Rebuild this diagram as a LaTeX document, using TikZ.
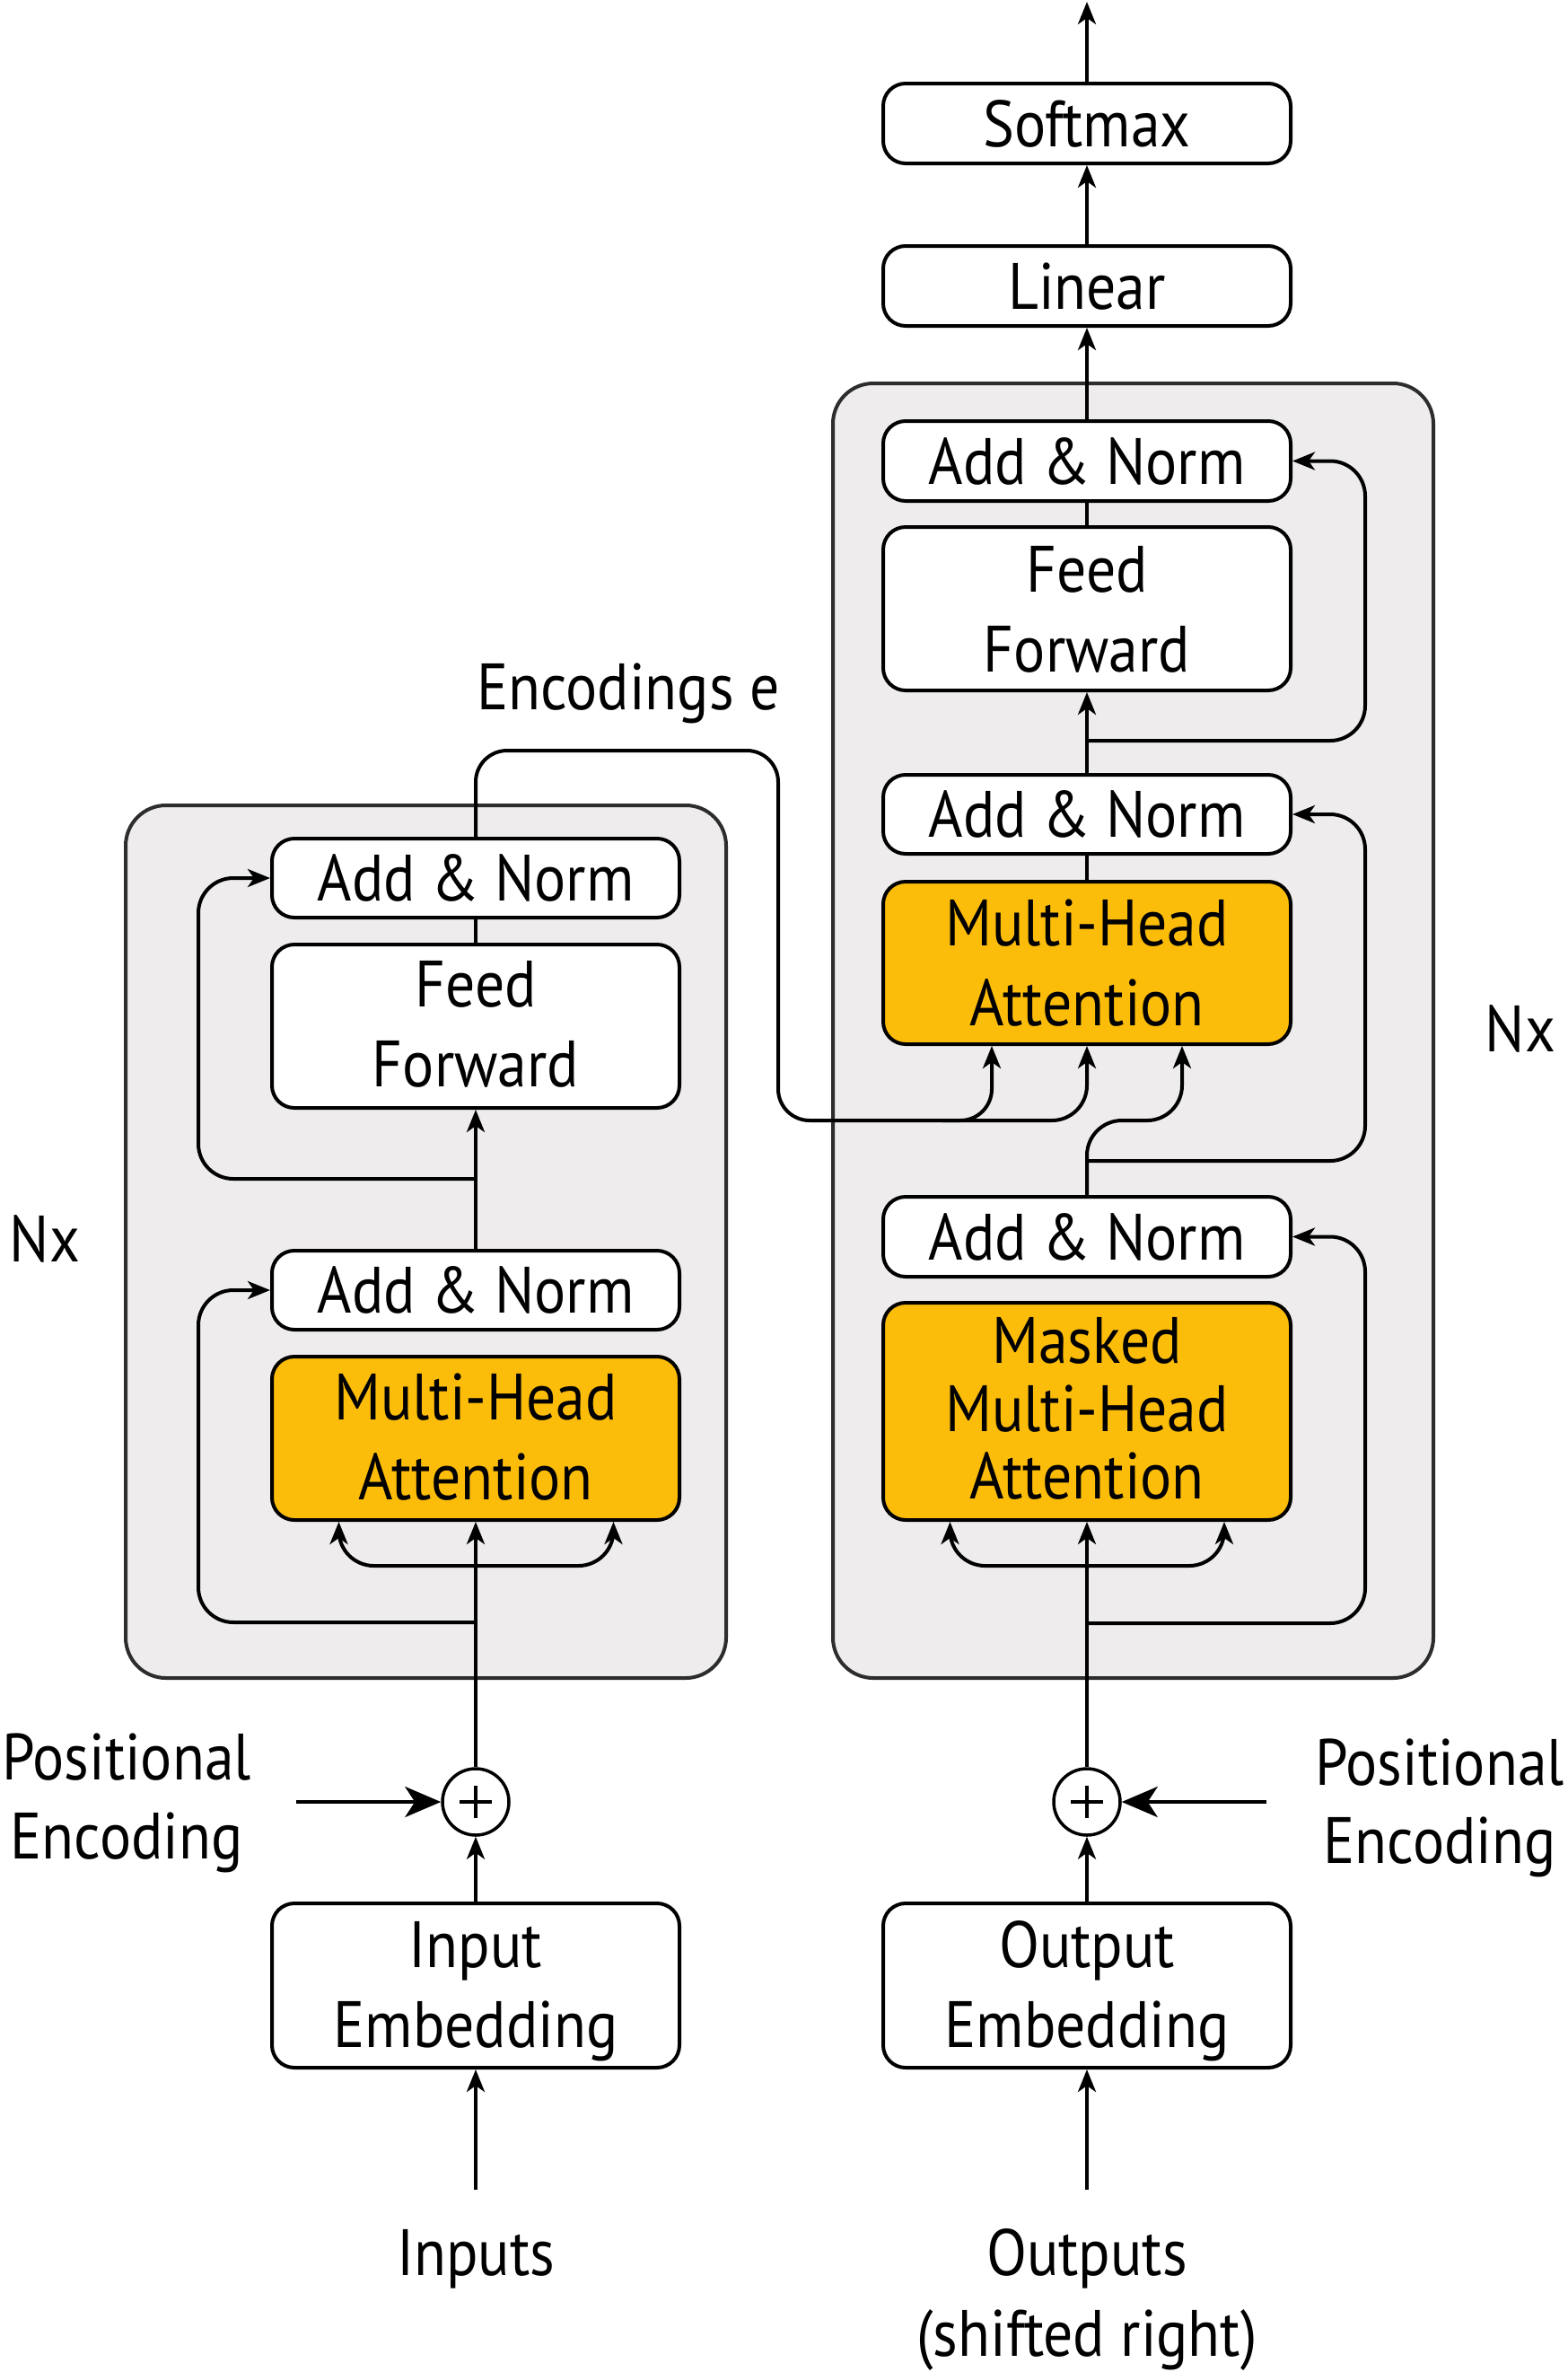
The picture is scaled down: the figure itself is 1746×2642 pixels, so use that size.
\documentclass[tikz,border=0pt]{standalone}
\usepackage{fontspec}
\setmainfont[FakeStretch=0.9]{PT Sans}
\usetikzlibrary{arrows.meta}
\definecolor{blockgray}{RGB}{238,236,237}
\definecolor{attnorange}{RGB}{252,188,10}
\definecolor{blockedge}{RGB}{45,45,45}
\tikzset{
  box/.style={draw=black, line width=4pt, rounded corners=25pt, fill=white, minimum width=454pt, inner sep=0pt},
  attn/.style={box, fill=attnorange},
  bigbox/.style={draw=blockedge, line width=4pt, rounded corners=45pt, fill=blockgray, inner sep=0pt},
  txt/.style={inner sep=0pt, anchor=base, font=\fontsize{73}{89}\selectfont},
  wire/.style={line width=4pt, rounded corners=39pt},
  arr/.style={wire, -{Stealth[length=25pt,width=20pt,inset=7pt]}},
  bigarr/.style={line width=4pt, -{Stealth[length=40pt,width=34pt,inset=11pt]}},
  plusnode/.style={circle, draw=black, line width=3.5pt, fill=white, minimum size=74pt, inner sep=0pt},
}
\begin{document}
\begin{tikzpicture}[x=1pt, y=-1pt]
\useasboundingbox (0,0) rectangle (1746,2642);

% blocks
\node[bigbox, minimum width=669pt, minimum height=972pt] (encblock) at (474.5,1383) {};
\node[bigbox, minimum width=669pt, minimum height=1442pt] (decblock) at (1262.5,1148) {};

% encoder boxes
\node[box, minimum height=88pt] (eAN2) at (530,978) {};
\node[box, minimum height=182pt] (eFF) at (530,1143) {};
\node[box, minimum height=88pt] (eAN1) at (530,1437) {};
\node[attn, minimum height=182pt] (eMHA) at (530,1602) {};
\node[box, minimum height=183pt] (eEmb) at (530,2211.5) {};
\node[plusnode] (ePlus) at (530,2007) {};

% decoder boxes
\node[box, minimum height=89pt] (dSoft) at (1211,137.5) {};
\node[box, minimum height=89pt] (dLin) at (1211,318.5) {};
\node[box, minimum height=89pt] (dAN3) at (1211,513.5) {};
\node[box, minimum height=182pt] (dFF) at (1211,678) {};
\node[box, minimum height=88pt] (dAN2) at (1211,907) {};
\node[attn, minimum height=181pt] (dMHA) at (1211,1072.5) {};
\node[box, minimum height=89pt] (dAN1) at (1211,1377.5) {};
\node[attn, minimum height=242pt] (dMMHA) at (1211,1572) {};
\node[box, minimum height=183pt] (dEmb) at (1211,2211.5) {};
\node[plusnode] (dPlus) at (1211,2007) {};

% plus signs
\draw[line width=3.5pt] (512,2007) -- (548,2007) (530,1989) -- (530,2025);
\draw[line width=3.5pt] (1193,2007) -- (1229,2007) (1211,1989) -- (1211,2025);

% free ends
\coordinate (inSrc) at (530,2439);
\coordinate (outSrc) at (1211,2439);
\coordinate (peL) at (330,2007);
\coordinate (peR) at (1411,2007);
\coordinate (topEnd) at (1211,2);

% ---------- encoder wiring ----------
\draw[arr] (inSrc) -- (eEmb.south);
\draw[arr] (eEmb.north) -- (ePlus.south);
\draw[bigarr] (peL) -- (ePlus.west);
\draw[arr] (ePlus.north) -- (eMHA.south);
\draw[arr] (530,1744) -- (377.5,1744) -- ([xshift=-152.5pt]eMHA.south);
\draw[arr] (530,1744) -- (683.5,1744) -- ([xshift=153.5pt]eMHA.south);
\draw[arr] (530,1807) -- (221,1807) -- (221,1437) -- (eAN1.west);
\draw[arr] (eAN1.north) -- (eFF.south);
\draw[arr] (530,1313) -- (221,1313) -- (221,978) -- (eAN2.west);
\draw[wire] (eFF.north) -- (eAN2.south);
% encoder output to decoder
\draw[arr, rounded corners=35pt] (eAN2.north) -- (530,836) -- (867,836) -- (867,1248) -- (1105,1248) -- ([xshift=-106pt]dMHA.south);
\draw[arr] (1050,1248) -- (1211,1248) -- (dMHA.south);

% ---------- decoder wiring ----------
\draw[arr] (outSrc) -- (dEmb.south);
\draw[arr] (dEmb.north) -- (dPlus.south);
\draw[bigarr] (peR) -- (dPlus.east);
\draw[arr] (dPlus.north) -- (dMMHA.south);
\draw[arr] (1211,1744) -- (1058.5,1744) -- ([xshift=-152.5pt]dMMHA.south);
\draw[arr] (1211,1744) -- (1364,1744) -- ([xshift=153pt]dMMHA.south);
\draw[arr] (1211,1808) -- (1521,1808) -- (1521,1377.5) -- (dAN1.east);
\draw[arr] (dAN1.north) -- (1211,1248) -- (1317,1248) -- ([xshift=106pt]dMHA.south);
\draw[arr] (1211,1293) -- (1521,1293) -- (1521,907) -- (dAN2.east);
\draw[wire] (dMHA.north) -- (dAN2.south);
\draw[arr] (dAN2.north) -- (dFF.south);
\draw[arr] (1211,825) -- (1521,825) -- (1521,513.5) -- (dAN3.east);
\draw[wire] (dFF.north) -- (dAN3.south);
\draw[arr] (dAN3.north) -- (dLin.south);
\draw[arr] (dLin.north) -- (dSoft.south);
\draw[arr] (dSoft.north) -- (topEnd);

% ---------- texts ----------
\node[txt] (tEAN2) at (530,1003) {Add \& Norm};
\node[txt] (tEFF1) at (530,1121) {Feed};
\node[txt] (tEFF2) at (530,1210) {Forward};
\node[txt] (tEAN1) at (530,1462) {Add \& Norm};
\node[txt] (tEMHA1) at (530,1581) {Multi-Head};
\node[txt] (tEMHA2) at (530,1670) {Attention};
\node[txt] (tEEmb1) at (530,2191) {Input};
\node[txt] (tEEmb2) at (530,2280) {Embedding};

\node[txt] (tSoft) at (1211,163) {Softmax};
\node[txt] (tLin) at (1211,344) {Linear};
\node[txt] (tDAN3) at (1211,539) {Add \& Norm};
\node[txt] (tDFF1) at (1211,659) {Feed};
\node[txt] (tDFF2) at (1211,748) {Forward};
\node[txt] (tDAN2) at (1211,932.5) {Add \& Norm};
\node[txt] (tDMHA1) at (1211,1053) {Multi-Head};
\node[txt] (tDMHA2) at (1211,1142) {Attention};
\node[txt] (tDAN1) at (1211,1403) {Add \& Norm};
\node[txt] (tDM1) at (1211,1518) {Masked};
\node[txt] (tDM2) at (1211,1594) {Multi-Head};
\node[txt] (tDM3) at (1211,1669) {Attention};
\node[txt] (tDEmb1) at (1211,2191) {Output};
\node[txt] (tDEmb2) at (1211,2280) {Embedding};

\node[txt] (tEnc) at (700,790) {Encodings e};
\node[txt] (tPEL1) at (141,1982) {Positional};
\node[txt] (tPEL2) at (141,2070) {Encoding};
\node[txt] (tPER1) at (1604,1988) {Positional};
\node[txt] (tPER2) at (1604,2075) {Encoding};
\node[txt] (tIn) at (530,2534) {Inputs};
\node[txt] (tOut1) at (1211,2534) {Outputs};
\node[txt] (tOut2) at (1211,2624) {(shifted right)};
\node[txt] (tNxL) at (50,1405) {Nx};
\node[txt] (tNxR) at (1694,1171) {Nx};
\end{tikzpicture}
\end{document}
